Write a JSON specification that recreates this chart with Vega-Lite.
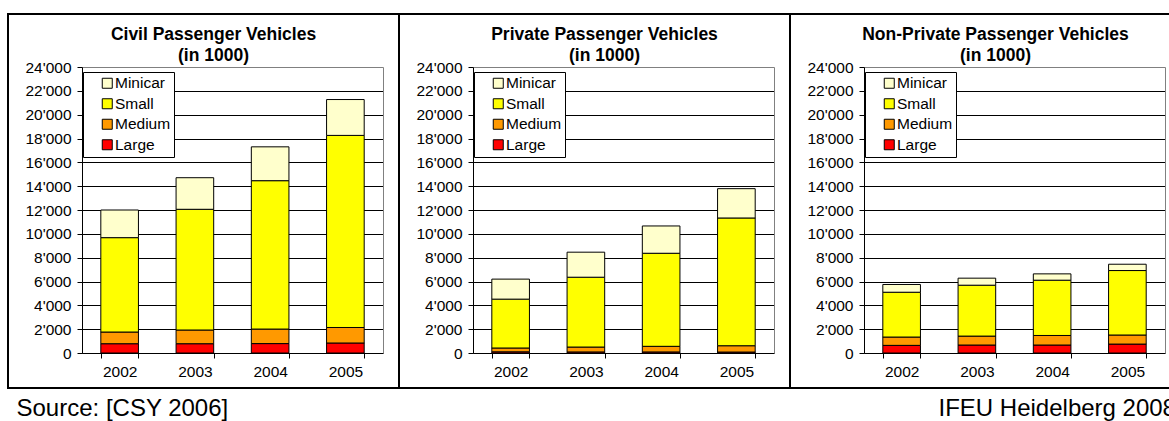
{
  "$schema": "https://vega.github.io/schema/vega-lite/v6.json",
  "padding": {"left": 7, "top": 13, "right": 0, "bottom": 0},
  "bounds": "flush",
  "spacing": 0,
  "background": "white",
  "resolve": {"scale": {"color": "independent"}, "legend": {"color": "independent"}},
  "data": {"values": [
    {"panel": "Civil", "year": "2002", "size": "Large", "value": 780},
    {"panel": "Civil", "year": "2002", "size": "Medium", "value": 980},
    {"panel": "Civil", "year": "2002", "size": "Small", "value": 7920},
    {"panel": "Civil", "year": "2002", "size": "Minicar", "value": 2320},
    {"panel": "Civil", "year": "2003", "size": "Large", "value": 780},
    {"panel": "Civil", "year": "2003", "size": "Medium", "value": 1150},
    {"panel": "Civil", "year": "2003", "size": "Small", "value": 10130},
    {"panel": "Civil", "year": "2003", "size": "Minicar", "value": 2650},
    {"panel": "Civil", "year": "2004", "size": "Large", "value": 790},
    {"panel": "Civil", "year": "2004", "size": "Medium", "value": 1220},
    {"panel": "Civil", "year": "2004", "size": "Small", "value": 12450},
    {"panel": "Civil", "year": "2004", "size": "Minicar", "value": 2840},
    {"panel": "Civil", "year": "2005", "size": "Large", "value": 840},
    {"panel": "Civil", "year": "2005", "size": "Medium", "value": 1300},
    {"panel": "Civil", "year": "2005", "size": "Small", "value": 16120},
    {"panel": "Civil", "year": "2005", "size": "Minicar", "value": 3010},
    {"panel": "Private", "year": "2002", "size": "Large", "value": 100},
    {"panel": "Private", "year": "2002", "size": "Medium", "value": 320},
    {"panel": "Private", "year": "2002", "size": "Small", "value": 4100},
    {"panel": "Private", "year": "2002", "size": "Minicar", "value": 1680},
    {"panel": "Private", "year": "2003", "size": "Large", "value": 90},
    {"panel": "Private", "year": "2003", "size": "Medium", "value": 410},
    {"panel": "Private", "year": "2003", "size": "Small", "value": 5860},
    {"panel": "Private", "year": "2003", "size": "Minicar", "value": 2100},
    {"panel": "Private", "year": "2004", "size": "Large", "value": 90},
    {"panel": "Private", "year": "2004", "size": "Medium", "value": 470},
    {"panel": "Private", "year": "2004", "size": "Small", "value": 7810},
    {"panel": "Private", "year": "2004", "size": "Minicar", "value": 2290},
    {"panel": "Private", "year": "2005", "size": "Large", "value": 80},
    {"panel": "Private", "year": "2005", "size": "Medium", "value": 530},
    {"panel": "Private", "year": "2005", "size": "Small", "value": 10720},
    {"panel": "Private", "year": "2005", "size": "Minicar", "value": 2460},
    {"panel": "NonPrivate", "year": "2002", "size": "Large", "value": 640},
    {"panel": "NonPrivate", "year": "2002", "size": "Medium", "value": 700},
    {"panel": "NonPrivate", "year": "2002", "size": "Small", "value": 3760},
    {"panel": "NonPrivate", "year": "2002", "size": "Minicar", "value": 650},
    {"panel": "NonPrivate", "year": "2003", "size": "Large", "value": 670},
    {"panel": "NonPrivate", "year": "2003", "size": "Medium", "value": 750},
    {"panel": "NonPrivate", "year": "2003", "size": "Small", "value": 4270},
    {"panel": "NonPrivate", "year": "2003", "size": "Minicar", "value": 590},
    {"panel": "NonPrivate", "year": "2004", "size": "Large", "value": 670},
    {"panel": "NonPrivate", "year": "2004", "size": "Medium", "value": 800},
    {"panel": "NonPrivate", "year": "2004", "size": "Small", "value": 4640},
    {"panel": "NonPrivate", "year": "2004", "size": "Minicar", "value": 530},
    {"panel": "NonPrivate", "year": "2005", "size": "Large", "value": 750},
    {"panel": "NonPrivate", "year": "2005", "size": "Medium", "value": 760},
    {"panel": "NonPrivate", "year": "2005", "size": "Small", "value": 5410},
    {"panel": "NonPrivate", "year": "2005", "size": "Minicar", "value": 530}
  ]},
  "hconcat": [
    {
      "width": 391, "height": 374,
      "title": {"text": ["Civil Passenger Vehicles", "(in 1000)"]},
      "transform": [
        {"filter": "datum.panel === 'Civil'"},
        {"calculate": "indexof(['Large','Medium','Small','Minicar'], datum.size)", "as": "ord"}
      ],
      "resolve": {"axis": {"y": "independent"}},
      "layer": [
        {
          "mark": {"type": "bar", "stroke": "black", "strokeWidth": 1},
          "encoding": {
            "x": {"field": "year", "type": "nominal", "scale": {"range": [74, 375], "paddingInner": 0.5, "paddingOuter": 0.25},
              "axis": {"orient": "bottom", "offset": -35, "labelAngle": 0, "tickBand": "extent", "tickSize": 5, "labelPadding": 6, "grid": false,
                "title": "Source: [CSY 2006]", "titleX": 8, "titleY": 62, "titleAlign": "left", "titleAnchor": "start", "titleBaseline": "alphabetic", "titleFontSize": 24, "titleFontWeight": "normal", "titleFont": "Liberation Sans", "titleColor": "black"}},
            "y": {"field": "value", "type": "quantitative", "stack": "zero", "scale": {"domain": [0, 24000], "range": [339, 53], "nice": false, "zero": true},
              "axis": {"orient": "left", "offset": -74, "title": null, "values": [0, 2000, 4000, 6000, 8000, 10000, 12000, 14000, 16000, 18000, 20000, 22000, 24000], "format": ",d", "grid": true,
                "gridColor": {"condition": {"test": "datum.value === 24000", "value": "#808080"}, "value": "black"}, "tickSize": 5, "labelPadding": 6}},
            "color": {"field": "size", "type": "nominal", "scale": {"domain": ["Minicar", "Small", "Medium", "Large"], "range": ["#FFFFCC", "#FFFF00", "#FF9900", "#FF0000"]},
              "legend": {"orient": "none", "legendX": 75, "legendY": 58, "title": null, "direction": "vertical", "fillColor": "white", "strokeColor": "black", "padding": 3.5, "rowPadding": 3.5, "symbolType": "square", "symbolSize": 100, "symbolStrokeColor": "black", "symbolStrokeWidth": 1, "symbolOffset": 13, "labelOffset": 0, "labelFontSize": 15.5, "labelColor": "black", "labelFont": "Liberation Sans"}},
            "order": {"field": "ord", "type": "quantitative"}
          }
        },
        {
          "mark": {"type": "rule", "opacity": 0},
          "encoding": {"y": {"datum": 0, "type": "quantitative", "axis": {"orient": "right", "offset": -16, "labels": false, "ticks": false, "grid": false, "title": null, "domainColor": "#808080"}}}
        }
      ]
    },
    {
      "width": 391, "height": 374,
      "title": {"text": ["Private Passenger Vehicles", "(in 1000)"]},
      "transform": [
        {"filter": "datum.panel === 'Private'"},
        {"calculate": "indexof(['Large','Medium','Small','Minicar'], datum.size)", "as": "ord"}
      ],
      "resolve": {"axis": {"y": "independent"}},
      "layer": [
        {
          "mark": {"type": "bar", "stroke": "black", "strokeWidth": 1},
          "encoding": {
            "x": {"field": "year", "type": "nominal", "scale": {"range": [74, 375], "paddingInner": 0.5, "paddingOuter": 0.25},
              "axis": {"orient": "bottom", "offset": -35, "title": null, "labelAngle": 0, "tickBand": "extent", "tickSize": 5, "labelPadding": 6, "grid": false}},
            "y": {"field": "value", "type": "quantitative", "stack": "zero", "scale": {"domain": [0, 24000], "range": [339, 53], "nice": false, "zero": true},
              "axis": {"orient": "left", "offset": -74, "title": null, "values": [0, 2000, 4000, 6000, 8000, 10000, 12000, 14000, 16000, 18000, 20000, 22000, 24000], "format": ",d", "grid": true,
                "gridColor": {"condition": {"test": "datum.value === 24000", "value": "#808080"}, "value": "black"}, "tickSize": 5, "labelPadding": 6}},
            "color": {"field": "size", "type": "nominal", "scale": {"domain": ["Minicar", "Small", "Medium", "Large"], "range": ["#FFFFCC", "#FFFF00", "#FF9900", "#FF0000"]},
              "legend": {"orient": "none", "legendX": 75, "legendY": 58, "title": null, "direction": "vertical", "fillColor": "white", "strokeColor": "black", "padding": 3.5, "rowPadding": 3.5, "symbolType": "square", "symbolSize": 100, "symbolStrokeColor": "black", "symbolStrokeWidth": 1, "symbolOffset": 13, "labelOffset": 0, "labelFontSize": 15.5, "labelColor": "black", "labelFont": "Liberation Sans"}},
            "order": {"field": "ord", "type": "quantitative"}
          }
        },
        {
          "mark": {"type": "rule", "opacity": 0},
          "encoding": {"y": {"datum": 0, "type": "quantitative", "axis": {"orient": "right", "offset": -16, "labels": false, "ticks": false, "grid": false, "title": null, "domainColor": "#808080"}}}
        }
      ]
    },
    {
      "width": 391, "height": 374,
      "title": {"text": ["Non-Private Passenger Vehicles", "(in 1000)"]},
      "transform": [
        {"filter": "datum.panel === 'NonPrivate'"},
        {"calculate": "indexof(['Large','Medium','Small','Minicar'], datum.size)", "as": "ord"}
      ],
      "resolve": {"axis": {"y": "independent"}},
      "layer": [
        {
          "mark": {"type": "bar", "stroke": "black", "strokeWidth": 1},
          "encoding": {
            "x": {"field": "year", "type": "nominal", "scale": {"range": [74, 375], "paddingInner": 0.5, "paddingOuter": 0.25},
              "axis": {"orient": "bottom", "offset": -35, "labelAngle": 0, "tickBand": "extent", "tickSize": 5, "labelPadding": 6, "grid": false,
                "title": "IFEU Heidelberg 2008", "titleX": 148, "titleY": 62, "titleAlign": "left", "titleAnchor": "start", "titleBaseline": "alphabetic", "titleFontSize": 24, "titleFontWeight": "normal", "titleFont": "Liberation Sans", "titleColor": "black"}},
            "y": {"field": "value", "type": "quantitative", "stack": "zero", "scale": {"domain": [0, 24000], "range": [339, 53], "nice": false, "zero": true},
              "axis": {"orient": "left", "offset": -74, "title": null, "values": [0, 2000, 4000, 6000, 8000, 10000, 12000, 14000, 16000, 18000, 20000, 22000, 24000], "format": ",d", "grid": true,
                "gridColor": {"condition": {"test": "datum.value === 24000", "value": "#808080"}, "value": "black"}, "tickSize": 5, "labelPadding": 6}},
            "color": {"field": "size", "type": "nominal", "scale": {"domain": ["Minicar", "Small", "Medium", "Large"], "range": ["#FFFFCC", "#FFFF00", "#FF9900", "#FF0000"]},
              "legend": {"orient": "none", "legendX": 75, "legendY": 58, "title": null, "direction": "vertical", "fillColor": "white", "strokeColor": "black", "padding": 3.5, "rowPadding": 3.5, "symbolType": "square", "symbolSize": 100, "symbolStrokeColor": "black", "symbolStrokeWidth": 1, "symbolOffset": 13, "labelOffset": 0, "labelFontSize": 15.5, "labelColor": "black", "labelFont": "Liberation Sans"}},
            "order": {"field": "ord", "type": "quantitative"}
          }
        },
        {
          "mark": {"type": "rule", "opacity": 0},
          "encoding": {"y": {"datum": 0, "type": "quantitative", "axis": {"orient": "right", "offset": -16, "labels": false, "ticks": false, "grid": false, "title": null, "domainColor": "#808080"}}}
        }
      ]
    }
  ],
  "config": {
    "locale": {"number": {"decimal": ".", "thousands": "'", "grouping": [3], "currency": ["", ""]}},
    "font": "Liberation Sans",
    "view": {"stroke": "black", "strokeWidth": 2},
    "concat": {"spacing": 0},
    "title": {"fontSize": 17.5, "fontWeight": "bold", "font": "Liberation Sans", "color": "black", "lineHeight": 21, "baseline": "alphabetic", "offset": -50, "anchor": "middle", "frame": "group", "dx": 10},
    "axis": {"labelFont": "Liberation Sans", "labelFontSize": 15.5, "labelColor": "black", "domainColor": "black", "tickColor": "black", "domainWidth": 1, "tickWidth": 1, "gridColor": "black", "gridWidth": 1, "gridOpacity": 1}
  }
}
